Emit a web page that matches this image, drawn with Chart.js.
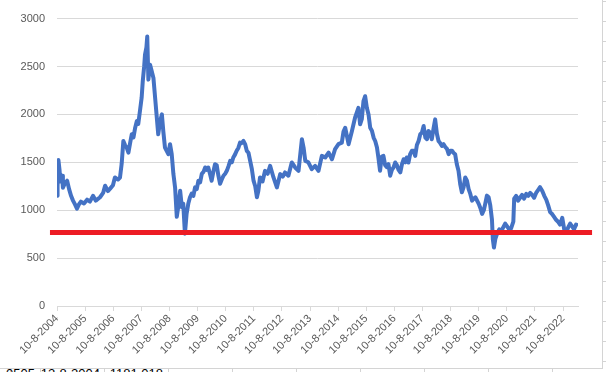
<!DOCTYPE html>
<html>
<head>
<meta charset="utf-8">
<script src="https://cdn.jsdelivr.net/npm/chart.js@4/dist/chart.umd.min.js"></script>
<style>
  body {
    margin: 0;
    width: 606px;
    height: 372px;
    position: relative;
    overflow: hidden;
    background-color: #fff;
    background-image:
      repeating-linear-gradient(to bottom, #d4d4d4 0 1px, transparent 1px 20px),
      repeating-linear-gradient(to right, #d4d4d4 0 1px, transparent 1px 64px);
    background-position: 0 1px, 40px 0;
    font-family: "Liberation Sans", Arial, sans-serif;
  }
  .chart-box {
    position: absolute;
    left: 0;
    top: 0;
    width: 602px;
    height: 368px;
    background: #fff;
    border-right: 1px solid #d4d4d4;
    border-bottom: 1px solid #d4d4d4;
    z-index: 2;
  }
  .cell {
    position: absolute;
    top: 367px;
    font-size: 13px;
    line-height: 13px;
    color: #000;
    text-align: right;
    z-index: 1;
  }
</style>
</head>
<body>
  <div class="chart-box">
    <canvas id="priceChart" width="602" height="368"></canvas>
  </div>
  <div class="cell" style="left:0; width:35px;">0505</div>
  <div class="cell" style="left:40px; width:60px;">12-8-2004</div>
  <div class="cell" style="left:104px; width:59px;">1181.018</div>

<script>
  // price series, x as decimal year
  const years = [
    2004.61, 2004.63, 2004.66, 2004.70, 2004.73, 2004.79, 2004.82, 2004.89, 2004.97, 2005.04,
    2005.11, 2005.18, 2005.25, 2005.32, 2005.39, 2005.46, 2005.57, 2005.68, 2005.78, 2005.89,
    2005.99, 2006.14, 2006.25, 2006.32, 2006.42, 2006.50, 2006.60, 2006.67, 2006.78, 2006.85,
    2006.91, 2006.97, 2007.03, 2007.09, 2007.15, 2007.21, 2007.27, 2007.33, 2007.39, 2007.45,
    2007.50, 2007.56, 2007.62, 2007.66, 2007.71, 2007.74, 2007.79, 2007.82, 2007.86, 2007.92,
    2007.98, 2008.04, 2008.10, 2008.16, 2008.21, 2008.28, 2008.34, 2008.39, 2008.45, 2008.51,
    2008.57, 2008.63, 2008.69, 2008.75, 2008.81, 2008.87, 2008.93, 2008.99, 2009.05, 2009.10,
    2009.16, 2009.22, 2009.28, 2009.34, 2009.40, 2009.46, 2009.52, 2009.58, 2009.64, 2009.70,
    2009.76, 2009.82, 2009.88, 2009.94, 2009.99, 2010.05, 2010.11, 2010.17, 2010.23, 2010.29,
    2010.35, 2010.41, 2010.47, 2010.53, 2010.59, 2010.65, 2010.71, 2010.77, 2010.83, 2010.88,
    2010.94, 2011.00, 2011.06, 2011.12, 2011.18, 2011.24, 2011.30, 2011.36, 2011.42, 2011.48,
    2011.54, 2011.60, 2011.66, 2011.72, 2011.77, 2011.83, 2011.92, 2012.01, 2012.10, 2012.19,
    2012.31, 2012.43, 2012.55, 2012.64, 2012.72, 2012.84, 2012.96, 2013.08, 2013.20, 2013.32,
    2013.38, 2013.44, 2013.55, 2013.67, 2013.79, 2013.91, 2014.03, 2014.15, 2014.27, 2014.39,
    2014.50, 2014.62, 2014.74, 2014.80, 2014.86, 2014.98, 2015.10, 2015.21, 2015.33, 2015.39,
    2015.45, 2015.51, 2015.57, 2015.63, 2015.69, 2015.75, 2015.81, 2015.87, 2015.93, 2015.99,
    2016.04, 2016.10, 2016.16, 2016.22, 2016.28, 2016.34, 2016.40, 2016.46, 2016.52, 2016.58,
    2016.64, 2016.70, 2016.76, 2016.82, 2016.88, 2016.94, 2017.00, 2017.05, 2017.11, 2017.17,
    2017.23, 2017.29, 2017.35, 2017.41, 2017.47, 2017.53, 2017.59, 2017.65, 2017.71, 2017.77,
    2017.82, 2017.88, 2017.94, 2018.00, 2018.06, 2018.12, 2018.18, 2018.24, 2018.30, 2018.36,
    2018.42, 2018.48, 2018.54, 2018.60, 2018.66, 2018.71, 2018.77, 2018.83, 2018.89, 2018.95,
    2019.01, 2019.07, 2019.13, 2019.19, 2019.25, 2019.31, 2019.37, 2019.43, 2019.49, 2019.61,
    2019.67, 2019.73, 2019.79, 2019.84, 2019.90, 2019.96, 2020.02, 2020.08, 2020.11, 2020.15,
    2020.20, 2020.27, 2020.34, 2020.41, 2020.48, 2020.55, 2020.62, 2020.69, 2020.76, 2020.84,
    2020.87, 2020.94, 2021.01, 2021.08, 2021.15, 2021.22, 2021.30, 2021.37, 2021.44, 2021.51,
    2021.58, 2021.65, 2021.72, 2021.79, 2021.87, 2021.94, 2022.01, 2022.08, 2022.15, 2022.22,
    2022.29, 2022.36, 2022.43, 2022.50, 2022.58, 2022.65, 2022.72, 2022.79, 2022.86, 2022.93,
    2023.00, 2023.07, 2023.14
  ];

  const prices = [
    1150, 1250, 1523, 1420, 1300, 1360, 1235, 1280, 1308, 1220,
    1150, 1100, 1060, 1017, 1060, 1090, 1070, 1110, 1090, 1150,
    1100, 1135, 1180, 1256, 1200, 1225, 1260, 1342, 1320, 1340,
    1484, 1723, 1680, 1654, 1601, 1700, 1793, 1760, 1861, 1931,
    1900, 2035, 2173, 2346, 2500, 2623, 2700, 2813, 2363, 2519,
    2450, 2380, 2173, 1965, 1793, 1931, 2000, 1827, 1654, 1620,
    1585, 1689, 1585, 1377, 1238, 931, 1050, 1204, 1031, 1069,
    755, 965, 1069, 1135, 1173, 1150, 1238, 1220, 1308, 1290,
    1380, 1400, 1446, 1420, 1446, 1380, 1308, 1400, 1480, 1470,
    1360, 1276, 1320, 1360, 1380, 1411, 1460, 1515, 1500, 1550,
    1580, 1620, 1650, 1705, 1700, 1723, 1690, 1620, 1600, 1515,
    1430, 1308, 1250, 1135, 1200, 1342, 1300, 1411, 1380, 1463,
    1342, 1238, 1377, 1350, 1394, 1360, 1498, 1446, 1411, 1741,
    1654, 1515, 1500, 1429, 1463, 1411, 1567, 1550, 1601, 1532,
    1637, 1689, 1705, 1820, 1861, 1689, 1827, 1965, 2069, 1896,
    1950, 2138, 2190, 2069, 2000, 1861, 1830, 1758, 1720, 1654,
    1550, 1411, 1560, 1567, 1470, 1450, 1480, 1360, 1420, 1446,
    1498, 1470, 1420, 1394, 1480, 1532, 1500, 1550, 1498, 1585,
    1620, 1620, 1567, 1680, 1723, 1793, 1810, 1879, 1758, 1741,
    1827, 1810, 1741, 1850, 1948, 1800, 1723, 1700, 1671, 1689,
    1660, 1640, 1585, 1620, 1620, 1600, 1585, 1480, 1411, 1273,
    1187, 1238, 1342, 1308, 1221, 1170, 1100, 1120, 1135, 1066,
    1020, 962, 1000, 1066, 1152, 1135, 1050, 900, 700, 610,
    700, 760, 800, 780, 820, 860, 830, 800, 810, 880,
    1120, 1150, 1100, 1130, 1160, 1120, 1170, 1150, 1180, 1160,
    1130, 1180, 1210, 1240, 1200, 1150, 1110, 1050, 980, 960,
    930, 900, 880, 850, 920, 800, 770, 820, 860, 830,
    800, 850, 840
  ];

  // x axis ticks: 10 August of every year
  const tickYears = [
    2004.61, 2005.61, 2006.61, 2007.61, 2008.61, 2009.61, 2010.61, 2011.61, 2012.61, 2013.61,
    2014.61, 2015.61, 2016.61, 2017.61, 2018.61, 2019.61, 2020.61, 2021.61, 2022.61
  ];
  const tickLabels = [
    '10-8-2004', '10-8-2005', '10-8-2006', '10-8-2007', '10-8-2008', '10-8-2009', '10-8-2010',
    '10-8-2011', '10-8-2012', '10-8-2013', '10-8-2014', '10-8-2015', '10-8-2016', '10-8-2017',
    '10-8-2018', '10-8-2019', '10-8-2020', '10-8-2021', '10-8-2022'
  ];

  // the red support line drawn across the chart
  const supportLevel = 768;
  const supportSpan = [2004.36, 2023.64];

  const axisFont = { family: '"Liberation Sans", Arial, sans-serif', size: 11 };
  const labelColor = '#595959';
  const gridColor = '#d9d9d9';

  const ctx = document.getElementById('priceChart').getContext('2d');

  new Chart(ctx, {
    type: 'line',
    data: {
      datasets: [
        {
          label: 'Support',
          data: supportSpan.map(x => ({ x: x, y: supportLevel })),
          borderColor: '#ed1c24',
          borderWidth: 5,
          borderCapStyle: 'butt',
          pointRadius: 0,
          clip: false,
          order: 0
        },
        {
          label: 'Price',
          data: years.map((x, i) => ({ x: x, y: prices[i] })),
          borderColor: '#4472c4',
          borderWidth: 4,
          borderJoinStyle: 'round',
          pointRadius: 0,
          tension: 0,
          order: 1
        }
      ]
    },
    options: {
      responsive: false,
      animation: false,
      devicePixelRatio: 1,
      layout: {
        padding: { left: 0, right: 24, top: 17, bottom: 0 }
      },
      plugins: {
        legend: { display: false },
        tooltip: { enabled: false }
      },
      scales: {
        x: {
          type: 'linear',
          min: years[0],
          max: years[years.length - 1],
          afterBuildTicks: scale => {
            scale.ticks = tickYears.map(v => ({ value: v }));
          },
          afterFit: scale => {
            scale.height = 62;
          },
          ticks: {
            autoSkip: false,
            minRotation: 45,
            maxRotation: 45,
            padding: 1,
            color: labelColor,
            font: axisFont,
            callback: (value, index) => tickLabels[index]
          },
          grid: {
            drawOnChartArea: false,
            drawTicks: true,
            tickLength: 5,
            color: gridColor
          },
          border: { color: gridColor }
        },
        y: {
          min: 0,
          max: 3000,
          afterFit: scale => {
            scale.width = 57;
          },
          ticks: {
            stepSize: 500,
            padding: 12,
            color: labelColor,
            font: axisFont,
            callback: value => String(value)
          },
          grid: {
            color: gridColor,
            drawTicks: false
          },
          border: { display: false }
        }
      }
    }
  });
</script>
</body>
</html>
